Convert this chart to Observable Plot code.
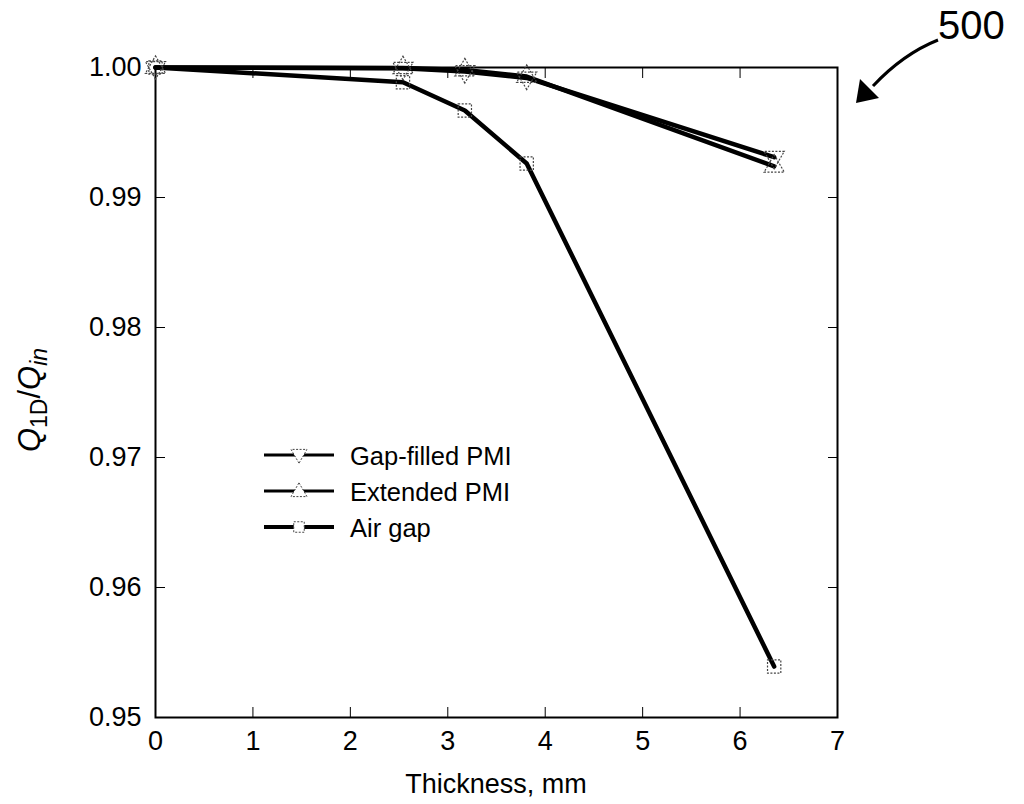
<!DOCTYPE html>
<html><head><meta charset="utf-8">
<script src="https://cdn.jsdelivr.net/npm/d3@7"></script>
<script src="https://cdn.jsdelivr.net/npm/@observablehq/plot@0.6"></script>
<style>body{margin:0;background:#fff}svg{font-family:"Liberation Sans",Arial,sans-serif}</style>
</head><body><div id="chart"></div>
<script>
const thickness = [0, 2.54, 3.175, 3.81, 6.35];
const gapFilled = [1.0, 0.99995, 0.9997, 0.9992, 0.9931];
const extended = [1.0, 0.99997, 0.9998, 0.9993, 0.9924];
const airGap = [1.0, 0.99887, 0.99669, 0.99262, 0.95392];
const seriesNames = ["Gap-filled PMI", "Extended PMI", "Air gap"];
const xTicks = [0, 1, 2, 3, 4, 5, 6, 7];
const yTicks = [0.95, 0.96, 0.97, 0.98, 0.99, 1.00];

const rows = [];
[gapFilled, extended, airGap].forEach((vals, i) => {
  vals.forEach((v, j) => rows.push({series: seriesNames[i], x: thickness[j], y: v}));
});
const symFor = {"Gap-filled PMI": "triangle", "Extended PMI": "triangle", "Air gap": "square"};
const rotFor = {"Gap-filled PMI": 180, "Extended PMI": 0, "Air gap": 0};

const chart = Plot.plot({
  width: 1024, height: 804,
  marginLeft: 155, marginRight: 187, marginTop: 67, marginBottom: 87,
  style: {fontFamily: '"Liberation Sans", Arial, sans-serif', fontSize: "26px", color: "#000", background: "#fff"},
  x: {domain: [0, 7]},
  y: {domain: [0.95, 1.0]},
  marks: [
    Plot.frame({stroke: "#000", strokeWidth: 2}),
    Plot.axisX({ticks: xTicks, tickSize: -10, tickPadding: 23, tickFormat: d => String(d), label: null, fontSize: 27}),
    Plot.axisX({anchor: "top", ticks: xTicks, tickSize: -10, tickFormat: () => "", label: null}),
    Plot.axisY({ticks: yTicks, tickSize: -10, tickPadding: 24, tickFormat: d3.format(".2f"), label: null, fontSize: 27}),
    Plot.axisY({anchor: "right", ticks: yTicks, tickSize: -10, tickFormat: () => "", label: null}),
    Plot.line(rows, {x: "x", y: "y", z: "series", stroke: "#000", strokeWidth: 4.5}),
    Plot.dot(rows, {x: "x", y: "y", symbol: d => symFor[d.series], rotate: d => rotFor[d.series], r: 7.5, stroke: "#444", strokeWidth: 1.2, strokeDasharray: "2,1.5", fill: "none"})
  ]
});
document.getElementById("chart").appendChild(chart);

const svg = d3.select(chart);
// x label
svg.append("text").attr("x", 496).attr("y", 793).attr("text-anchor", "middle")
  .attr("font-size", 27).text("Thickness, mm");
// y label with subscripts
const yl = svg.append("text").attr("transform", "translate(40,400) rotate(-90)")
  .attr("text-anchor", "middle").attr("font-size", 31);
yl.append("tspan").attr("font-style", "italic").text("Q");
yl.append("tspan").attr("font-size", 23).attr("dy", 7).text("1D");
yl.append("tspan").attr("dy", -7).text("/");
yl.append("tspan").attr("font-style", "italic").text("Q");
yl.append("tspan").attr("font-size", 23).attr("dy", 7).attr("font-style", "italic").text("in");

// legend
const legY = [455, 491, 527];
seriesNames.forEach((name, i) => {
  const g = svg.append("g").attr("transform", `translate(0,${legY[i]})`);
  g.append("line").attr("x1", 264).attr("x2", 334).attr("y1", 0).attr("y2", 0)
    .attr("stroke", "#000").attr("stroke-width", i === 2 ? 4 : 3);
  const t = i === 2 ? d3.symbolSquare : d3.symbolTriangle;
  g.append("path").attr("d", d3.symbol(t, 110)()).attr("transform", `translate(299,${i===0?-1:i===1?1:0}) rotate(${i===0?180:0})`)
    .attr("fill", "#fff").attr("stroke", "#444").attr("stroke-dasharray", "2,1.5");
  g.append("text").attr("x", 350).attr("y", 10).attr("text-anchor", "start").attr("font-size", 25.5).text(name);
});

// annotation 500 with arrow
svg.append("text").attr("x", 938).attr("y", 39).attr("text-anchor", "start").attr("font-size", 40).text("500");
svg.append("path").attr("d", "M938,40 Q903,54 873,86").attr("fill", "none").attr("stroke", "#000").attr("stroke-width", 3);
svg.append("path").attr("d", "M856,103 L860,79 L879,98 Z").attr("fill", "#000");
</script>
</body></html>
